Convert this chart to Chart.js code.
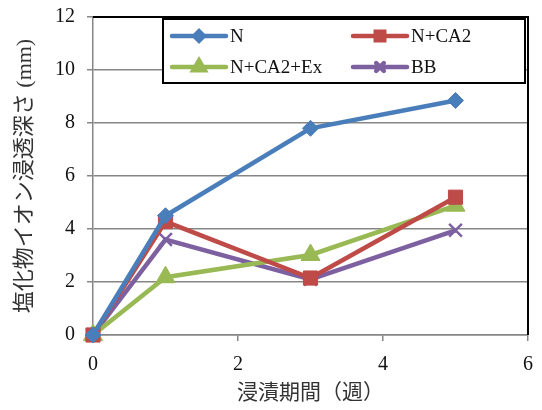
<!DOCTYPE html>
<html>
<head>
<meta charset="utf-8">
<script src="https://cdn.jsdelivr.net/npm/chart.js@4.4.0/dist/chart.umd.min.js"></script>
<style>
  body { margin: 0; background: #fff; }
  #wrap { width: 542px; height: 410px; }
</style>
</head>
<body>
<div id="wrap"><canvas id="c" width="542" height="410"></canvas></div>
<script>
// weeks of immersion
var weeks = [0, 1, 3, 5];
var seriesN = [0, 4.5, 7.8, 8.85];
var seriesCA2 = [0, 4.28, 2.15, 5.2];
var seriesCA2Ex = [0, 2.18, 3.02, 4.88];
var seriesBB = [0, 3.6, 2.1, 3.95];
var labels = ["N", "N+CA2", "N+CA2+Ex", "BB"];
var xTicks = [0, 2, 4, 6];
var yTicks = [0, 2, 4, 6, 8, 10, 12];

var serif = "'Liberation Serif', 'Noto Sans CJK JP', serif";

function pts(vals){
	return weeks.map(function(w, i){ return {x: w, y: vals[i]}; });
}

function ds(label, vals, color, style, r){
	return {
		label: label,
		data: pts(vals),
		borderColor: color,
		backgroundColor: color,
		borderWidth: 4.5,
		pointStyle: style,
		pointRadius: r,
		pointBorderWidth: style == 'crossRot' ? 2.5 : 1,
		pointBorderColor: color,
		pointBackgroundColor: color,
		tension: 0,
		clip: false
	};
}

// the tick labels stick out a bit, let layout padding decide instead
function noPad(s){
	s.paddingTop = 0; s.paddingBottom = 0;
	s.paddingLeft = 0; s.paddingRight = 0;
}

// excel style legend box + frame on top/right
var extras = {
	id: 'extras',
	afterDraw: function(chart){
		var ctx = chart.ctx;
		var a = chart.chartArea;
		ctx.save();
		ctx.strokeStyle = '#000';
		ctx.lineWidth = 2;
		ctx.beginPath();
		ctx.moveTo(a.left, a.top);
		ctx.lineTo(a.right, a.top);
		ctx.lineTo(a.right, a.bottom);
		ctx.stroke();

		// legend
		var bx = 163, by = 19, bw = 362, bh = 64;
		ctx.fillStyle = '#fff';
		ctx.fillRect(bx, by, bw, bh);
		ctx.lineWidth = 2;
		ctx.strokeStyle = '#000';
		ctx.strokeRect(bx, by, bw, bh);
		var pos = [[172, 36], [353, 36], [172, 67], [353, 67]];
		ctx.font = "19px " + serif;
		ctx.textBaseline = 'middle';
		chart.data.datasets.forEach(function(d, i){
			var x = pos[i][0], y = pos[i][1];
			ctx.strokeStyle = d.borderColor;
			ctx.lineWidth = 4.5;
			ctx.lineCap = 'round';
			ctx.beginPath();
			ctx.moveTo(x, y);
			ctx.lineTo(x + 54, y);
			ctx.stroke();
			Chart.helpers.drawPoint(ctx, {
				pointStyle: d.pointStyle,
				radius: d.pointRadius * 0.6,
				borderWidth: 2
			}, x + 27, y);
			ctx.fillStyle = d.borderColor;
			ctx.fill();
			ctx.fillStyle = '#111';
			ctx.fillText(d.label, x + 58, y + 1);
		});
		ctx.restore();
	}
};

var chart = new Chart(document.getElementById('c'), {
	type: 'line',
	data: {
		datasets: [
			ds(labels[0], seriesN, '#4A7EBB', 'rectRot', 8),
			ds(labels[1], seriesCA2, '#BE4B48', 'rect', 10),
			ds(labels[2], seriesCA2Ex, '#98B954', 'triangle', 11),
			ds(labels[3], seriesBB, '#7D60A0', 'crossRot', 9)
		]
	},
	options: {
		responsive: false,
		devicePixelRatio: 1,
		animation: false,
		layout: { padding: { top: 17, right: 14, left: 0, bottom: 0 } },
		plugins: { legend: { display: false }, tooltip: { enabled: false } },
		scales: {
			x: {
				type: 'linear',
				min: 0, max: 6,
				afterBuildTicks: function(s){ s.ticks = xTicks.map(function(v){ return {value: v}; }); },
				afterFit: function(s){ s.height = 75; noPad(s); },
				grid: { drawOnChartArea: false, color: '#868686', tickLength: 6, lineWidth: 1.5 },
				border: { color: '#868686', width: 1.5 },
				ticks: { font: { family: serif, size: 20 }, color: '#111', padding: 12 },
				title: { display: true, text: '浸漬期間（週）', font: { family: serif, size: 21 }, color: '#333', padding: { top: 0, bottom: 4 } }
			},
			y: {
				min: 0, max: 12,
				afterBuildTicks: function(s){ s.ticks = yTicks.map(function(v){ return {value: v}; }); },
				afterFit: function(s){ s.width = 93; noPad(s); },
				grid: { color: '#868686', tickLength: 6, lineWidth: 1.5 },
				border: { color: '#868686', width: 1.5 },
				ticks: { font: { family: serif, size: 20 }, color: '#111', padding: 12 },
				title: { display: true, text: '塩化物イオン浸透深さ (mm)', font: { family: serif, size: 22 }, color: '#333', padding: { top: 12, bottom: 0 } }
			}
		}
	},
	plugins: [extras]
});
</script>
</body>
</html>
